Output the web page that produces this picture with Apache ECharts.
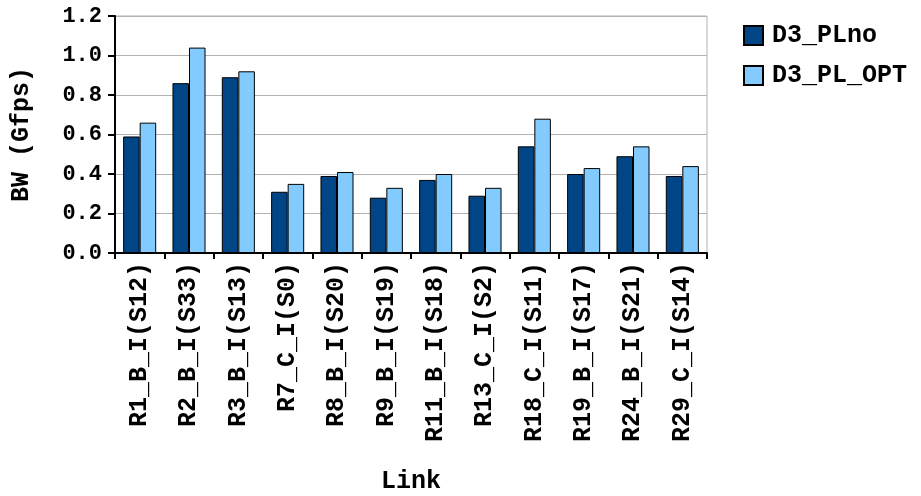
<!DOCTYPE html>
<html>
<head>
<meta charset="utf-8">
<script src="https://cdn.jsdelivr.net/npm/echarts@6/dist/echarts.min.js"></script>
<style>
html,body{margin:0;padding:0;background:#fff;}
#chart{width:921px;height:496px;}
</style>
</head>
<body>
<div id="chart"></div>
<script>
var categories = ["R1_B_I(S12)","R2_B_I(S33)","R3_B_I(S13)","R7_C_I(S0)","R8_B_I(S20)","R9_B_I(S19)","R11_B_I(S18)","R13_C_I(S2)","R18_C_I(S11)","R19_B_I(S17)","R24_B_I(S21)","R29_C_I(S14)"];
var seriesNames = ["D3_PLno","D3_PL_OPT"];
var plnoValues = [0.59,0.86,0.89,0.31,0.39,0.28,0.37,0.29,0.54,0.40,0.49,0.39];
var optValues = [0.66,1.04,0.92,0.35,0.41,0.33,0.40,0.33,0.68,0.43,0.54,0.44];
var yTicks = {min:0, max:1.2, interval:0.2};
var xAxisTitle = "Link";
var yAxisTitle = "BW (Gfps)";

var FONT = "'Liberation Mono', 'Courier New', monospace";
var chart = echarts.init(document.getElementById('chart'), null, {renderer:'canvas'});
chart.setOption({
  animation:false,
  backgroundColor:'#ffffff',
  grid:{left:115, right:214, top:16, bottom:243, show:true, borderColor:'#b3b3b3', borderWidth:1, containLabel:false, outerBoundsMode:'none'},
  legend:{
    orient:'vertical', left:738, top:18,
    itemWidth:19, itemHeight:19, itemGap:15,
    icon:'rect',
    textStyle:{fontFamily:FONT, fontWeight:'bold', fontSize:25, color:'#000', padding:[0,0,0,4]},
    data:seriesNames
  },
  xAxis:{
    type:'category', data:categories,
    name:xAxisTitle, nameLocation:'middle', nameGap:216,
    nameTextStyle:{fontFamily:FONT, fontWeight:'bold', fontSize:25, color:'#000'},
    axisLine:{lineStyle:{color:'#000', width:2}},
    axisTick:{show:true, length:6, lineStyle:{color:'#000', width:2}},
    axisLabel:{rotate:90, interval:0, margin:9, fontFamily:FONT, fontWeight:'bold', fontSize:25, color:'#000'},
    splitLine:{show:false}
  },
  yAxis:{
    type:'value', min:yTicks.min, max:yTicks.max, interval:yTicks.interval,
    name:yAxisTitle, nameLocation:'middle', nameGap:81, nameRotate:90,
    nameTextStyle:{fontFamily:FONT, fontWeight:'bold', fontSize:25, color:'#000'},
    axisLine:{show:true, lineStyle:{color:'#000', width:2}},
    axisTick:{show:true, length:7, lineStyle:{color:'#000', width:2}},
    axisLabel:{margin:13, fontFamily:FONT, fontWeight:'bold', fontSize:22, color:'#000', formatter:function(v){return v.toFixed(1);}},
    splitLine:{show:true, lineStyle:{color:'#b3b3b3', width:1}}
  },
  series:[
    {name:seriesNames[0], type:'bar', data:plnoValues, barGap:'0%', barCategoryGap:'33%',
     itemStyle:{color:'#004586', borderColor:'#000', borderWidth:1}},
    {name:seriesNames[1], type:'bar', data:optValues, barGap:'0%', barCategoryGap:'33%',
     itemStyle:{color:'#83caff', borderColor:'#000', borderWidth:1}}
  ]
});
</script>
</body>
</html>
